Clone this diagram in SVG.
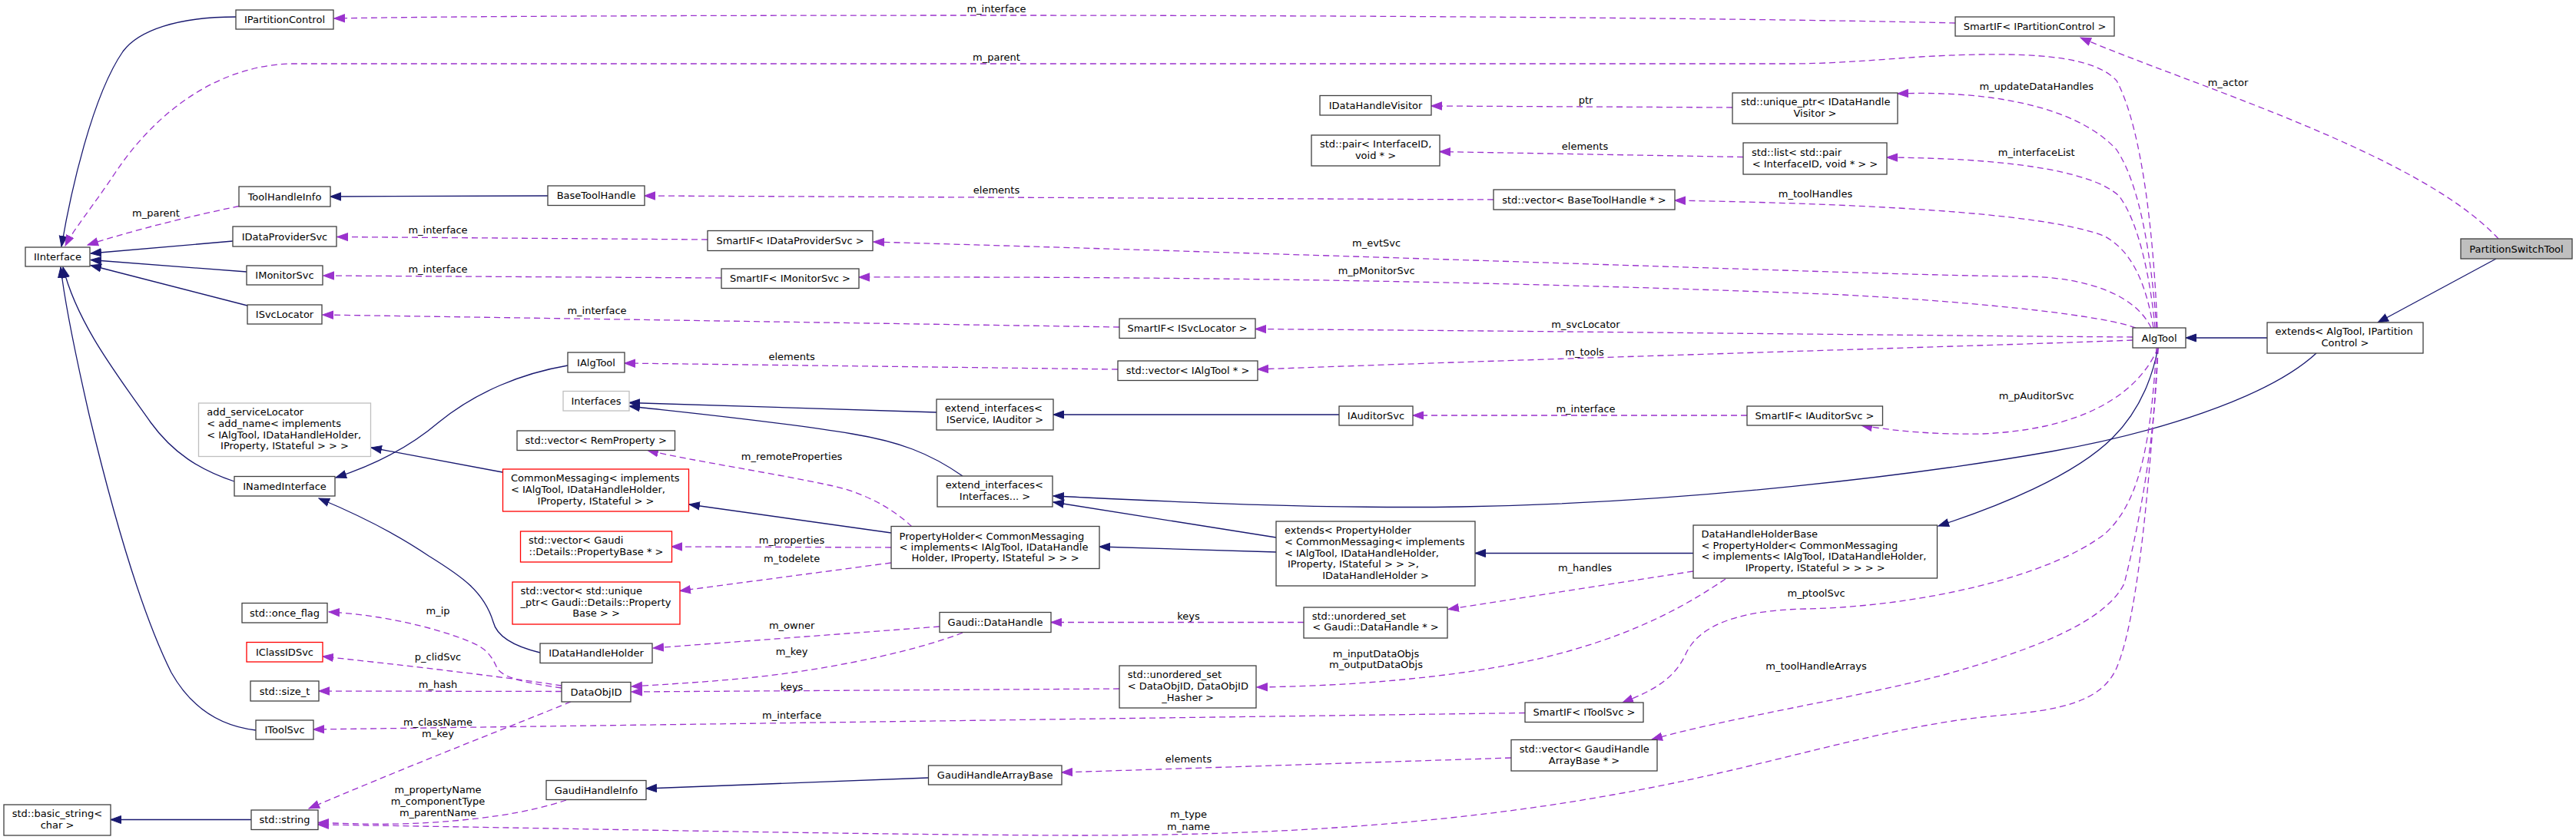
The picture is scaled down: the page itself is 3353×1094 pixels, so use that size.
<svg xmlns="http://www.w3.org/2000/svg" width="3353" height="1094" viewBox="0 0 3353 1094">
<style>
.n rect{fill:#fff;stroke:#404040;stroke-width:1.3}
.n.red rect{stroke:#ff0000}
.n.gray rect{stroke:#bfbfbf}
.n.main rect{fill:#bfbfbf}
text{font-family:"DejaVu Sans","Liberation Sans",sans-serif;font-size:13px;fill:#000}
.c{text-anchor:middle}
.inh{fill:none;stroke:#191970;stroke-width:1.3;marker-end:url(#ah)}
.use{fill:none;stroke:#9a32cd;stroke-width:1.3;stroke-dasharray:8,5;marker-end:url(#au)}
</style>
<defs>
<marker id="ah" markerUnits="userSpaceOnUse" markerWidth="15" markerHeight="12" viewBox="0 0 15 12" refX="14" refY="6" orient="auto"><path d="M0.5,1 L14,6 L0.5,11 z" fill="#191970" stroke="#191970" stroke-width="1"/></marker>
<marker id="au" markerUnits="userSpaceOnUse" markerWidth="15" markerHeight="12" viewBox="0 0 15 12" refX="14" refY="6" orient="auto"><path d="M0.5,1 L14,6 L0.5,11 z" fill="#9a32cd" stroke="#9a32cd" stroke-width="1"/></marker>
</defs>
<rect width="3353" height="1094" fill="#fff"/>
<g id="connectors">
<!-- inheritance -->
<path class="inh" d="M307,22 C230,22 180,40 160,67 C120,125 92,250 80,321"/>
<path class="inh" d="M303,314 L118,330"/>
<path class="inh" d="M321,354 L118,338.5"/>
<path class="inh" d="M322,398 L118,345.5"/>
<path class="inh" d="M305,627 C260,612 225,590 196,550 C150,485 100,420 82,348"/>
<path class="inh" d="M333,951 C280,945 245,915 223,876 C180,790 140,640 116,540 C100,470 85,400 79,348"/>
<path class="inh" d="M713,255 L430,256"/>
<path class="inh" d="M739,476 C680,486 620,510 571,550 C530,585 480,608 437,622"/>
<path class="inh" d="M654,615 L483,583"/>
<path class="inh" d="M703,850 C670,842 647,830 642,810 C630,770 600,750 558,724 C520,698 470,672 415,649"/>
<path class="inh" d="M1219,537 L819,524.5"/>
<path class="inh" d="M1253,620 C1210,590 1170,575 1109,565 C1020,550 900,538 819,529"/>
<path class="inh" d="M1743,540 L1371,540"/>
<path class="inh" d="M1160,694 L897,657"/>
<path class="inh" d="M1661,700 L1371,654"/>
<path class="inh" d="M1661,719 L1431,712"/>
<path class="inh" d="M2204,720.5 L1920,720.5"/>
<path class="inh" d="M2809,453 C2800,500 2780,540 2750,570 C2700,620 2600,660 2523,685"/>
<path class="inh" d="M2951,440 L2845,440"/>
<path class="inh" d="M3249,337 L3095,420"/>
<path class="inh" d="M3015,460 C2950,520 2800,565 2670,588 C2500,618 2200,655 1902,660 C1700,663 1500,652 1371,646"/>
<path class="inh" d="M1208,1013 L841,1027"/>
<path class="inh" d="M327,1067.5 L144,1067.5"/>
<!-- usage -->
<path class="use" d="M2545,30 C2300,24 1800,20 1300,20 C900,20 600,21 435,24"/>
<text class="c" x="1297" y="16">m_interface</text>
<path class="use" d="M3252,311 C3150,200 2850,110 2708,49"/>
<text class="c" x="2900" y="111.5">m_actor</text>
<path class="use" d="M2808,427 C2804,320 2790,170 2755,105 C2725,72 2640,66 2500,74 C2440,78 2400,82 2340,83 L380,83 C280,85 200,150 150,225 C120,270 95,300 85,320"/>
<text class="c" x="1297" y="79">m_parent</text>
<path class="use" d="M2807,427 C2800,330 2785,240 2755,195 C2700,135 2580,118 2470,122"/>
<text class="c" x="2650.7" y="117">m_updateDataHandles</text>
<path class="use" d="M2255,140 L1863,138"/>
<text class="c" x="2064" y="135">ptr</text>
<path class="use" d="M2805,427 C2800,370 2785,290 2758,255 C2720,220 2600,206 2456,205"/>
<text class="c" x="2650.7" y="203">m_interfaceList</text>
<path class="use" d="M2269,204.5 L1874,197.5"/>
<text class="c" x="2063" y="195">elements</text>
<path class="use" d="M2803,427 C2795,380 2780,330 2740,308 C2660,275 2400,265 2180,261"/>
<text class="c" x="2363" y="257">m_toolHandles</text>
<path class="use" d="M1944,260 L839,255"/>
<text class="c" x="1297" y="251.5">elements</text>
<path class="use" d="M311,268.5 C250,281 180,298 114,319"/>
<text class="c" x="203" y="281.5">m_parent</text>
<path class="use" d="M2800,427 C2780,385 2720,362 2640,360 C2500,360 2000,340 1137,315"/>
<text class="c" x="1791.6" y="321.3">m_evtSvc</text>
<path class="use" d="M921,312 L439,308.5"/>
<text class="c" x="570" y="304">m_interface</text>
<path class="use" d="M2780,427 C2740,412 2600,395 2400,384 C2000,368 1600,360 1118,361"/>
<text class="c" x="1791.6" y="357">m_pMonitorSvc</text>
<path class="use" d="M939,362 L421,359"/>
<text class="c" x="570" y="355">m_interface</text>
<path class="use" d="M2776,439 C2500,437 2100,432 1634,428.5"/>
<text class="c" x="2064" y="427">m_svcLocator</text>
<path class="use" d="M1457,426 L420,410"/>
<text class="c" x="777" y="409">m_interface</text>
<path class="use" d="M2776,443 C2600,450 2100,464 1637,481"/>
<text class="c" x="2062.5" y="463">m_tools</text>
<path class="use" d="M1455,481 L813,473"/>
<text class="c" x="1030.6" y="469.3">elements</text>
<path class="use" d="M2274,541 L1839,541"/>
<text class="c" x="2064" y="537">m_interface</text>
<path class="use" d="M2809,453 C2780,520 2700,560 2580,565 C2520,566 2470,562 2423,554"/>
<text class="c" x="2650.7" y="520">m_pAuditorSvc</text>
<path class="use" d="M2807,453 C2800,560 2790,650 2740,695 C2670,750 2500,790 2350,793 C2250,795 2210,820 2195,850 C2180,885 2150,900 2112,915"/>
<text class="c" x="2364" y="777">m_ptoolSvc</text>
<path class="use" d="M2809,453 C2805,560 2790,660 2765,760 C2740,810 2650,845 2530,879 C2400,912 2250,935 2150,963"/>
<text class="c" x="2364" y="872">m_toolHandleArrays</text>
<path class="use" d="M2809,453 C2800,600 2785,800 2755,870 C2735,915 2680,925 2600,932 C2450,945 2300,1000 2100,1035 C1850,1080 1600,1088 1400,1088 C1100,1087 700,1078 414,1074"/>
<text class="c" x="1547" y="1065.3">m_type</text>
<text class="c" x="1547" y="1080.5">m_name</text>
<path class="use" d="M1187,686 C1160,660 1120,640 1080,632 C1000,615 900,600 843,586.5"/>
<text class="c" x="1030.6" y="599.3">m_remoteProperties</text>
<path class="use" d="M1160,713 L874,712"/>
<text class="c" x="1030.6" y="708">m_properties</text>
<path class="use" d="M1160,733 L885,769.5"/>
<text class="c" x="1030.6" y="732">m_todelete</text>
<path class="use" d="M1223,816 L850,844"/>
<text class="c" x="1030.6" y="819.4">m_owner</text>
<path class="use" d="M1253,824 C1200,845 1100,868 1000,880 C930,888 870,891 822,894"/>
<text class="c" x="1030.6" y="853.3">m_key</text>
<path class="use" d="M1457,897 L822,901"/>
<text class="c" x="1030.6" y="899">keys</text>
<path class="use" d="M1697,810.5 L1368,810.5"/>
<text class="c" x="1547" y="807">keys</text>
<path class="use" d="M2204,744 L1885,793.5"/>
<text class="c" x="2063" y="744">m_handles</text>
<path class="use" d="M2246,754 C2200,785 2140,820 2045,847 C1950,875 1800,893 1636,895"/>
<text class="c" x="1791" y="855.5">m_inputDataObjs</text>
<text class="c" x="1791" y="870">m_outputDataObjs</text>
<path class="use" d="M1985,928.5 L408,950"/>
<text class="c" x="1030.6" y="936">m_interface</text>
<path class="use" d="M1967,987 L1382,1006"/>
<text class="c" x="1547" y="993.2">elements</text>
<path class="use" d="M731,896 C690,890 660,885 648,872 C640,855 635,845 610,835 C560,815 490,800 428,797"/>
<text class="c" x="570" y="799.5">m_ip</text>
<path class="use" d="M731,893 C680,885 560,870 420,855"/>
<text class="c" x="570" y="860.2">p_clidSvc</text>
<path class="use" d="M731,900.5 L415,900"/>
<text class="c" x="570" y="896.2">m_hash</text>
<path class="use" d="M743,914 C680,940 550,990 402,1053"/>
<text class="c" x="570" y="945.2">m_className</text>
<text class="c" x="570" y="960.2">m_key</text>
<path class="use" d="M737,1042 C690,1058 620,1070 520,1073 C480,1074 440,1072 414,1071.5"/>
<text class="c" x="570" y="1033.2">m_propertyName</text>
<text class="c" x="570" y="1048.2">m_componentType</text>
<text class="c" x="570" y="1063.2">m_parentName</text>
</g>
<g id="PartitionSwitchTool" class="n main"><rect x="3203" y="311" width="145" height="26"/><text class="c" x="3275.5" y="328.5">PartitionSwitchTool</text></g>
<g id="extends_AlgTool" class="n"><rect x="2951" y="420" width="203" height="40"/><text x="2961.5" y="436">extends&lt; AlgTool, IPartition</text><text class="c" x="3052.5" y="451">Control &gt;</text></g>
<g id="AlgTool" class="n"><rect x="2776" y="427" width="69" height="26"/><text class="c" x="2810.5" y="444.5">AlgTool</text></g>
<g id="SmartIF_IPartitionControl" class="n"><rect x="2545" y="22" width="207" height="25"/><text class="c" x="2648.5" y="39">SmartIF&lt; IPartitionControl &gt;</text></g>
<g id="unique_ptr_IDataHandleVisitor" class="n"><rect x="2255" y="121" width="215" height="40"/><text x="2266" y="137">std::unique_ptr&lt; IDataHandle</text><text class="c" x="2362.5" y="152">Visitor &gt;</text></g>
<g id="IDataHandleVisitor" class="n"><rect x="1718" y="124.5" width="145" height="25.5"/><text class="c" x="1790.5" y="141.7">IDataHandleVisitor</text></g>
<g id="list_pair" class="n"><rect x="2269" y="186" width="187" height="41"/><text x="2280" y="203">std::list&lt; std::pair</text><text class="c" x="2362.5" y="217.5">&lt; InterfaceID, void * &gt; &gt;</text></g>
<g id="pair" class="n"><rect x="1707" y="176" width="167" height="40"/><text x="1718" y="192">std::pair&lt; InterfaceID,</text><text class="c" x="1790.5" y="207">void * &gt;</text></g>
<g id="vector_BaseToolHandle" class="n"><rect x="1944" y="247" width="236" height="26"/><text class="c" x="2062" y="264.5">std::vector&lt; BaseToolHandle * &gt;</text></g>
<g id="BaseToolHandle" class="n"><rect x="713" y="242" width="126" height="25.5"/><text class="c" x="776" y="259">BaseToolHandle</text></g>
<g id="ToolHandleInfo" class="n"><rect x="311" y="243" width="119" height="26"/><text class="c" x="370.5" y="260.5">ToolHandleInfo</text></g>
<g id="IPartitionControl" class="n"><rect x="307" y="13" width="127" height="25"/><text class="c" x="370.5" y="30">IPartitionControl</text></g>
<g id="IInterface" class="n"><rect x="33" y="322" width="84" height="25"/><text class="c" x="75" y="339">IInterface</text></g>
<g id="IDataProviderSvc" class="n"><rect x="303" y="295" width="135" height="26"/><text class="c" x="370.5" y="312.5">IDataProviderSvc</text></g>
<g id="IMonitorSvc" class="n"><rect x="321" y="346" width="99" height="25"/><text class="c" x="370.5" y="363">IMonitorSvc</text></g>
<g id="ISvcLocator" class="n"><rect x="322" y="397" width="97" height="25"/><text class="c" x="370.5" y="414">ISvcLocator</text></g>
<g id="SmartIF_IDataProviderSvc" class="n"><rect x="921" y="300.5" width="215" height="26"/><text class="c" x="1028.5" y="318">SmartIF&lt; IDataProviderSvc &gt;</text></g>
<g id="SmartIF_IMonitorSvc" class="n"><rect x="939" y="350" width="179" height="25.5"/><text class="c" x="1028.5" y="367">SmartIF&lt; IMonitorSvc &gt;</text></g>
<g id="SmartIF_ISvcLocator" class="n"><rect x="1457" y="415" width="177" height="25.5"/><text class="c" x="1545.5" y="432.2">SmartIF&lt; ISvcLocator &gt;</text></g>
<g id="IAlgTool" class="n"><rect x="739" y="459" width="74" height="26"/><text class="c" x="776" y="476.5">IAlgTool</text></g>
<g id="vector_IAlgTool" class="n"><rect x="1455" y="470" width="182" height="25.5"/><text class="c" x="1546" y="487.2">std::vector&lt; IAlgTool * &gt;</text></g>
<g id="Interfaces" class="n gray"><rect x="733" y="509.5" width="86" height="25.5"/><text class="c" x="776" y="526.7">Interfaces</text></g>
<g id="extend_interfaces_IService_IAuditor" class="n"><rect x="1219" y="520" width="152" height="40"/><text x="1229.7" y="536">extend_interfaces&lt;</text><text class="c" x="1295" y="551">IService, IAuditor &gt;</text></g>
<g id="IAuditorSvc" class="n"><rect x="1743" y="529" width="96" height="25"/><text class="c" x="1791" y="546">IAuditorSvc</text></g>
<g id="SmartIF_IAuditorSvc" class="n"><rect x="2274" y="529" width="176.5" height="25"/><text class="c" x="2362" y="546">SmartIF&lt; IAuditorSvc &gt;</text></g>
<g id="add_serviceLocator" class="n gray"><rect x="258.5" y="525" width="224" height="69.5"/><text x="269.2" y="541.2">add_serviceLocator</text><text x="269.2" y="555.8">&lt; add_name&lt; implements</text><text x="269.2" y="571">&lt; IAlgTool, IDataHandleHolder,</text><text class="c" x="370.5" y="585.1">IProperty, IStateful &gt; &gt; &gt;</text></g>
<g id="INamedInterface" class="n"><rect x="305" y="620.5" width="131" height="25.5"/><text class="c" x="370.5" y="637.7">INamedInterface</text></g>
<g id="vector_RemProperty" class="n"><rect x="673" y="561" width="205.5" height="25.5"/><text class="c" x="775.7" y="578.2">std::vector&lt; RemProperty &gt;</text></g>
<g id="CommonMessaging" class="n red"><rect x="654.5" y="611" width="242" height="55"/><text x="665" y="627.2">CommonMessaging&lt; implements</text><text x="665" y="642">&lt; IAlgTool, IDataHandleHolder,</text><text class="c" x="775.5" y="656.8">IProperty, IStateful &gt; &gt;</text></g>
<g id="extend_interfaces_Interfaces" class="n"><rect x="1220" y="620" width="150" height="40"/><text x="1230.7" y="636">extend_interfaces&lt;</text><text class="c" x="1295" y="650.8">Interfaces... &gt;</text></g>
<g id="PropertyHolder" class="n"><rect x="1160" y="685.5" width="271" height="55"/><text x="1170.6" y="702.5">PropertyHolder&lt; CommonMessaging</text><text x="1170.6" y="716.9">&lt; implements&lt; IAlgTool, IDataHandle</text><text class="c" x="1295.5" y="731">Holder, IProperty, IStateful &gt; &gt; &gt;</text></g>
<g id="vector_PropertyBase" class="n red"><rect x="677.5" y="692" width="197" height="40"/><text x="688" y="708.1">std::vector&lt; Gaudi</text><text class="c" x="776" y="722.9">::Details::PropertyBase * &gt;</text></g>
<g id="vector_unique_ptr_PropertyBase" class="n red"><rect x="667" y="758" width="218" height="55"/><text x="677.5" y="774.1">std::vector&lt; std::unique</text><text x="677.5" y="789">_ptr&lt; Gaudi::Details::Property</text><text class="c" x="776" y="803.1">Base &gt; &gt;</text></g>
<g id="extends_PropertyHolder" class="n"><rect x="1661" y="679" width="259" height="84"/><text x="1672" y="695.4">extends&lt; PropertyHolder</text><text x="1672" y="710.2">&lt; CommonMessaging&lt; implements</text><text x="1672" y="725">&lt; IAlgTool, IDataHandleHolder,</text><text x="1676" y="739.2">IProperty, IStateful &gt; &gt; &gt;,</text><text class="c" x="1790.5" y="754">IDataHandleHolder &gt;</text></g>
<g id="DataHandleHolderBase" class="n"><rect x="2204" y="684" width="317.5" height="69"/><text x="2214.6" y="700">DataHandleHolderBase</text><text x="2214.6" y="714.8">&lt; PropertyHolder&lt; CommonMessaging</text><text x="2214.6" y="728.9">&lt; implements&lt; IAlgTool, IDataHandleHolder,</text><text class="c" x="2362.7" y="744.1">IProperty, IStateful &gt; &gt; &gt; &gt;</text></g>
<g id="unordered_set_DataHandle" class="n"><rect x="1697" y="791" width="187" height="40"/><text x="1707.7" y="807">std::unordered_set</text><text class="c" x="1790.5" y="820.8">&lt; Gaudi::DataHandle * &gt;</text></g>
<g id="Gaudi_DataHandle" class="n"><rect x="1223" y="797.5" width="145" height="26"/><text class="c" x="1295.5" y="815">Gaudi::DataHandle</text></g>
<g id="IDataHandleHolder" class="n"><rect x="703" y="838" width="146" height="25.5"/><text class="c" x="776" y="855.2">IDataHandleHolder</text></g>
<g id="DataObjID" class="n"><rect x="731" y="888.5" width="90" height="25.5"/><text class="c" x="776" y="905.7">DataObjID</text></g>
<g id="unordered_set_DataObjID" class="n"><rect x="1457" y="867" width="178" height="55"/><text x="1467.7" y="883">std::unordered_set</text><text x="1467.7" y="897.8">&lt; DataObjID, DataObjID</text><text class="c" x="1546" y="913">_Hasher &gt;</text></g>
<g id="SmartIF_IToolSvc" class="n"><rect x="1985" y="915" width="154" height="25.5"/><text class="c" x="2062" y="932.2">SmartIF&lt; IToolSvc &gt;</text></g>
<g id="vector_GaudiHandleArrayBase" class="n"><rect x="1967" y="963.5" width="190" height="40.5"/><text x="1977.7" y="980.1">std::vector&lt; GaudiHandle</text><text class="c" x="2062" y="994.9">ArrayBase * &gt;</text></g>
<g id="GaudiHandleArrayBase" class="n"><rect x="1208.5" y="997" width="173.5" height="25"/><text class="c" x="1295.2" y="1014">GaudiHandleArrayBase</text></g>
<g id="GaudiHandleInfo" class="n"><rect x="711" y="1016.5" width="130" height="25"/><text class="c" x="776" y="1033.5">GaudiHandleInfo</text></g>
<g id="once_flag" class="n"><rect x="315" y="785.5" width="111" height="25.5"/><text class="c" x="370.5" y="802.7">std::once_flag</text></g>
<g id="IClassIDSvc" class="n red"><rect x="321" y="836.5" width="99" height="25.5"/><text class="c" x="370.5" y="853.7">IClassIDSvc</text></g>
<g id="size_t" class="n"><rect x="326" y="887" width="89" height="26"/><text class="c" x="370.5" y="904.5">std::size_t</text></g>
<g id="IToolSvc" class="n"><rect x="333" y="938" width="75" height="25"/><text class="c" x="370.5" y="955">IToolSvc</text></g>
<g id="std_string" class="n"><rect x="327" y="1055" width="87" height="25.5"/><text class="c" x="370.5" y="1072.2">std::string</text></g>
<g id="basic_string_char" class="n"><rect x="5" y="1048" width="139" height="40"/><text x="15.7" y="1064">std::basic_string&lt;</text><text class="c" x="74.5" y="1078.7">char &gt;</text></g>
</svg>
